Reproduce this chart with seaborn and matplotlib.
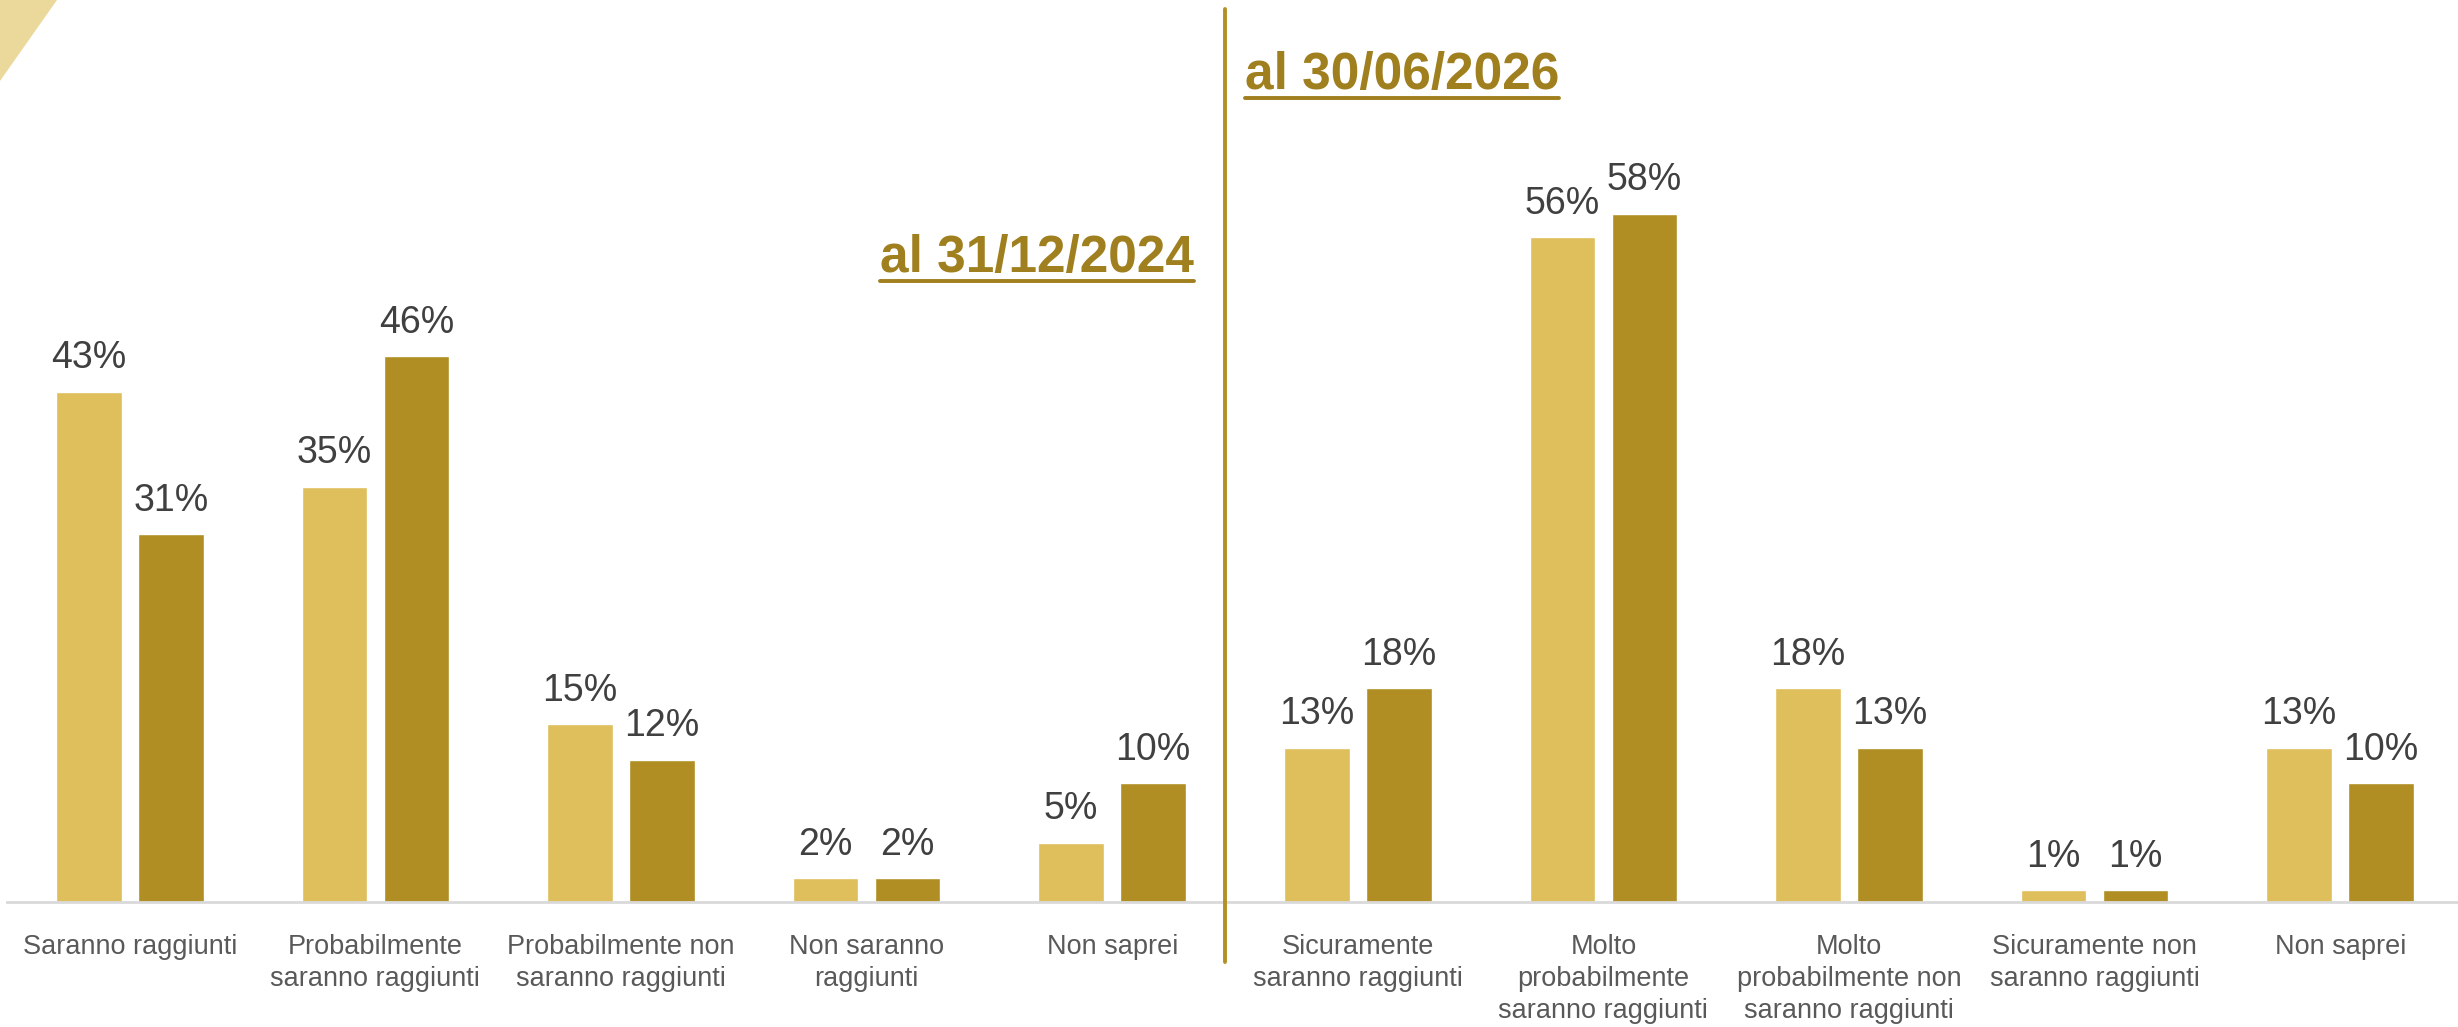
import pandas as pd
import matplotlib.pyplot as plt
from matplotlib.lines import Line2D
from matplotlib.patches import Polygon
from matplotlib import font_manager
import seaborn as sns

# dati
etichette_2024 = ["Saranno raggiunti", "Probabilmente\nsaranno raggiunti",
                  "Probabilmente non\nsaranno raggiunti", "Non saranno\nraggiunti", "Non saprei"]
etichette_2026 = ["Sicuramente\nsaranno raggiunti", "Molto\nprobabilmente\nsaranno raggiunti",
                  "Molto\nprobabilmente non\nsaranno raggiunti", "Sicuramente non\nsaranno raggiunti",
                  "Non saprei"]
serie_1_2024 = [43, 35, 15, 2, 5]
serie_2_2024 = [31, 46, 12, 2, 10]
serie_1_2026 = [13, 56, 18, 1, 13]
serie_2_2026 = [18, 58, 13, 1, 10]
serie = ["Rilevazione 1", "Rilevazione 2"]
titolo_2024 = "al 31/12/2024"
titolo_2026 = "al 30/06/2026"

CHIARO = "#DFBE5C"
SCURO = "#B08E23"
ORO_TESTO = "#A07F1E"

righe = []
for periodo, etichette, s1, s2 in [("2024", etichette_2024, serie_1_2024, serie_2_2024),
                                   ("2026", etichette_2026, serie_1_2026, serie_2_2026)]:
    for i, et in enumerate(etichette):
        chiave = periodo + " | " + et
        righe.append({"chiave": chiave, "serie": serie[0], "valore": s1[i]})
        righe.append({"chiave": chiave, "serie": serie[1], "valore": s2[i]})
df = pd.DataFrame(righe)
ordine = list(dict.fromkeys(df["chiave"]))

sns.set_style("white")
try:
    font_manager.findfont("Liberation Sans Narrow", fallback_to_default=False)
    font_titoli = "Liberation Sans Narrow"
except Exception:
    font_titoli = "Liberation Sans"
plt.rcParams["font.family"] = ["Liberation Sans", "DejaVu Sans"]

W, H = 2458, 1027
fig = plt.figure(figsize=(W / 100, H / 100), dpi=100)
ax = fig.add_axes([7 / W, (H - 902) / H, (W - 7) / W, 902 / H])

sns.barplot(data=df, x="chiave", y="valore", hue="serie", order=ordine,
            palette=[CHIARO, SCURO], saturation=1, width=0.668, gap=0.2,
            legend=False, ax=ax)

ax.set_xlim(-0.5, -0.5 + (W - 7) / 245.6)
ax.set_ylim(0, 902 / 11.87)

for c in ax.containers:
    ax.bar_label(c, labels=[f"{v:.0f}%" for v in c.datavalues], padding=11,
                 fontsize=27, color="#404040")

ax.set_xticks(range(len(ordine)))
ax.set_xticklabels(etichette_2024 + etichette_2026, fontsize=19.5, color="#595959",
                   linespacing=1.3)
ax.tick_params(axis="x", length=0, pad=23)
ax.set_yticks([])
ax.set_xlabel("")
ax.set_ylabel("")
for lato in ["top", "right", "left"]:
    ax.spines[lato].set_visible(False)
ax.spines["bottom"].set_color("#D9D9D9")
ax.spines["bottom"].set_linewidth(2)

# linea divisoria e triangolo decorativo
fig.add_artist(Line2D([1225 / W, 1225 / W], [1 - 9 / H, 1 - 962 / H],
                      color="#B39024", linewidth=2.8))
fig.add_artist(Polygon([[0, 1], [57 / W, 1], [0, 1 - 81 / H]], closed=True,
                       facecolor="#EBD99B", edgecolor="none"))

# titoli sottolineati
t1 = fig.text(1194 / W, 1 - 272 / H, titolo_2024, ha="right", va="baseline",
              fontsize=37, fontweight="bold", color=ORO_TESTO, family=font_titoli)
t2 = fig.text(1245 / W, 1 - 89 / H, titolo_2026, ha="left", va="baseline",
              fontsize=37, fontweight="bold", color=ORO_TESTO, family=font_titoli)
fig.canvas.draw()
for t, y_sotto in [(t1, 281), (t2, 98)]:
    bb = t.get_window_extent().transformed(fig.transFigure.inverted())
    fig.add_artist(Line2D([bb.x0, bb.x1], [1 - y_sotto / H, 1 - y_sotto / H],
                          color=ORO_TESTO, linewidth=2.8))

fig.savefig("out.png", dpi=100)
plt.close(fig)
